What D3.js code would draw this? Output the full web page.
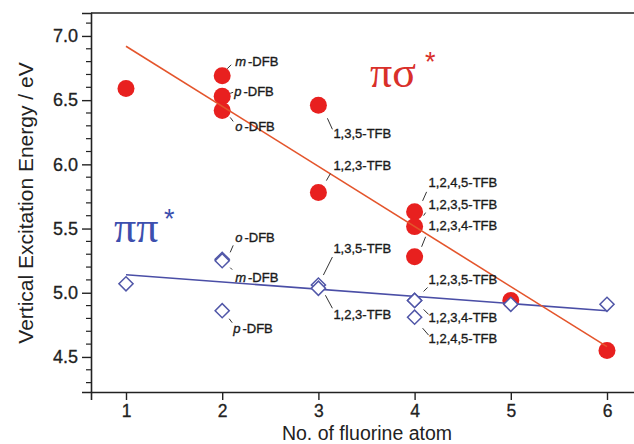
<!DOCTYPE html>
<html><head><meta charset="utf-8">
<script src="https://cdn.jsdelivr.net/npm/d3@7/dist/d3.min.js"></script>
<style>body{margin:0;background:#fff}svg{display:block}</style>
</head><body><svg id="c" width="634" height="444"></svg>
<script>
// ---- data ----
const xTicks = [1, 2, 3, 4, 5, 6];
const yTicks = [4.5, 5.0, 5.5, 6.0, 6.5, 7.0];
const sigmaX = [1, 2, 2, 2, 3, 3, 4, 4, 4, 5, 6];
const sigmaY = [6.59, 6.69, 6.53, 6.42, 6.46, 5.78, 5.63, 5.515, 5.28, 4.94, 4.55];
const sigmaLabels = ["", "m-DFB", "p-DFB", "o-DFB", "1,3,5-TFB", "1,2,3-TFB", "1,2,4,5-TFB", "1,2,3,5-TFB", "1,2,3,4-TFB", "", ""];
const piX = [1, 2, 2, 2, 3, 3, 4, 4, 4, 5, 6];
const piY = [5.07, 5.26, 5.25, 4.86, 5.06, 5.035, 4.94, 4.94, 4.81, 4.91, 4.91];
const piLabels = ["", "o-DFB", "m-DFB", "p-DFB", "1,3,5-TFB", "1,2,3-TFB", "1,2,3,5-TFB", "1,2,3,4-TFB", "1,2,4,5-TFB", "", ""];
const fitX = [1, 6];
const sigmaFit = [6.92, 4.58];
const piFit = [5.14, 4.86];
const xTitle = "No. of fluorine atom";
const yTitle = "Vertical Excitation Energy / eV";

// ---- layout (label offsets from marker: text dx,dy ; leader x1,y1,x2,y2) ----
const sigmaOff = [null, [13,-10,5,-7,9,-11], [12,0,8,-3,11,-4], [13,21,8,7,11,11],
  [15,33,9,13,14,24], [15,-23,8,-12,12,-19], [14,-25,8,-11,12,-20], [14,-18,9,-11,11,-14], [14,-27,7,-10,11,-20], null, null];
const piOff = [null, [13,-17,8,-7,11,-14], [13,21,8,7,10,9], [11,22,7,8,10,12],
  [15,-32,5,-10,14,-28], [15,31,7,7,14,20], [14,-16,9,-9,13,-13], [14,22,9,9,14,14], [14,26,8,11,14,18], null, null];

const RED = "#e8201f", REDLINE = "#e4552c", BLUE = "#5157a8", BLUELINE = "#4a4ea6";
const svg = d3.select("#c");
const L = 91, T = 13, B = 392, R = 650;
const x = d3.scaleLinear().domain([1 - 35/96.2, 6 + (R-607)/96.2]).range([L, R]);
const y = d3.scaleLinear().domain([4.227, 4.227 + (B-T)/128.4]).range([B, T]);
const sans = "'Liberation Sans', Arial, Helvetica, sans-serif";

// frame top
svg.append("line").attr("x1", L).attr("x2", 640).attr("y1", T).attr("y2", T).attr("stroke", "#222").attr("stroke-width", 1.6);

// y axis
const yAx = svg.append("g").attr("transform", `translate(${L},0)`)
  .call(d3.axisLeft(y).tickValues(yTicks).tickSize(9).tickPadding(4).tickFormat(d3.format(".1f")));
yAx.select(".domain").attr("stroke", "#222").attr("stroke-width", 1.6);
yAx.selectAll(".tick line").attr("stroke", "#222").attr("stroke-width", 1.4);
yAx.selectAll("text").attr("font-family", sans).attr("font-size", 18).attr("fill", "#222")
  .attr("stroke", "#222").attr("stroke-width", 0.3);
const minorY = d3.range(43, 72).map(v => v / 10).filter(v => Math.round(v*10) % 5 !== 0);
svg.append("g").selectAll("line").data(minorY).join("line")
  .attr("x1", L - 5).attr("x2", L).attr("y1", d => y(d)).attr("y2", d => y(d))
  .attr("stroke", "#222").attr("stroke-width", 1.2);

// x axis
const xAx = svg.append("g").attr("transform", `translate(0,${B})`)
  .call(d3.axisBottom(x).tickValues(xTicks).tickSize(8).tickPadding(5).tickFormat(d3.format("d")));
xAx.select(".domain").attr("stroke", "#222").attr("stroke-width", 1.6);
xAx.selectAll(".tick line").attr("stroke", "#222").attr("stroke-width", 1.4);
xAx.selectAll("text").attr("font-family", sans).attr("font-size", 17.5).attr("fill", "#222")
  .attr("stroke", "#222").attr("stroke-width", 0.3);

// titles
svg.append("text").attr("x", 367).attr("y", 439.5).attr("text-anchor", "middle")
  .attr("font-family", sans).attr("font-size", 19.5).attr("fill", "#222").text(xTitle);
svg.append("text").attr("transform", "translate(33,203) rotate(-90)").attr("text-anchor", "middle")
  .attr("font-family", sans).attr("font-size", 21).attr("fill", "#222").text(yTitle);

// red circles
const sig = sigmaX.map((v, i) => ({x: v, y: sigmaY[i], label: sigmaLabels[i], off: sigmaOff[i]}));
const pis = piX.map((v, i) => ({x: v, y: piY[i], label: piLabels[i], off: piOff[i]}));
svg.append("g").selectAll("circle").data(sig).join("circle")
  .attr("cx", d => x(d.x)).attr("cy", d => y(d.y)).attr("r", 8.5).attr("fill", RED);

// blue fit line
const line = d3.line().x(d => x(d[0])).y(d => y(d[1]));
svg.append("path").attr("d", line(fitX.map((v, i) => [v, piFit[i]])))
  .attr("fill", "none").attr("stroke", BLUELINE).attr("stroke-width", 1.6);

// diamonds
const sym = d3.symbol().type(d3.symbolSquare).size(100);
svg.append("g").selectAll("path").data(pis).join("path")
  .attr("d", sym).attr("transform", d => `translate(${x(d.x)},${y(d.y)}) rotate(45)`)
  .attr("fill", "#fff").attr("stroke", BLUE).attr("stroke-width", 1.5);

// red fit line
svg.append("path").attr("d", line(fitX.map((v, i) => [v, sigmaFit[i]])))
  .attr("fill", "none").attr("stroke", REDLINE).attr("stroke-width", 1.6);

// annotations
function annotate(data) {
  const g = svg.append("g");
  data.filter(d => d.label).forEach(d => {
    const px = x(d.x), py = y(d.y), o = d.off;
    g.append("line").attr("x1", px + o[2]).attr("y1", py + o[3]).attr("x2", px + o[4]).attr("y2", py + o[5])
      .attr("stroke", "#333").attr("stroke-width", 1);
    const t = g.append("text").attr("x", px + o[0]).attr("y", py + o[1])
      .attr("font-family", sans).attr("font-size", 13).attr("fill", "#1a1a1a")
      .attr("stroke", "#1a1a1a").attr("stroke-width", 0.35);
    const m = d.label.match(/^([a-z])-(.*)$/);
    if (m) {
      t.append("tspan").attr("font-style", "italic").text(m[1]);
      t.append("tspan").attr("dx", 2).text("-" + m[2]);
    } else t.text(d.label);
  });
}
annotate(sig);
annotate(pis);

// state labels
const serif = "'Liberation Serif', 'Times New Roman', serif";
svg.append("text").attr("x", 370).attr("y", 87).attr("font-family", serif).attr("font-size", 44)
  .attr("fill", "#d9302a").text("πσ");
svg.append("text").attr("x", 425).attr("y", 71).attr("font-family", sans).attr("font-size", 27)
  .attr("fill", "#d9302a").text("*");
svg.append("text").attr("x", 114).attr("y", 242).attr("font-family", serif).attr("font-size", 44)
  .attr("fill", "#3d4fae").text("ππ");
svg.append("text").attr("x", 164).attr("y", 228).attr("font-family", sans).attr("font-size", 27)
  .attr("fill", "#3d4fae").text("*");
</script></body></html>
